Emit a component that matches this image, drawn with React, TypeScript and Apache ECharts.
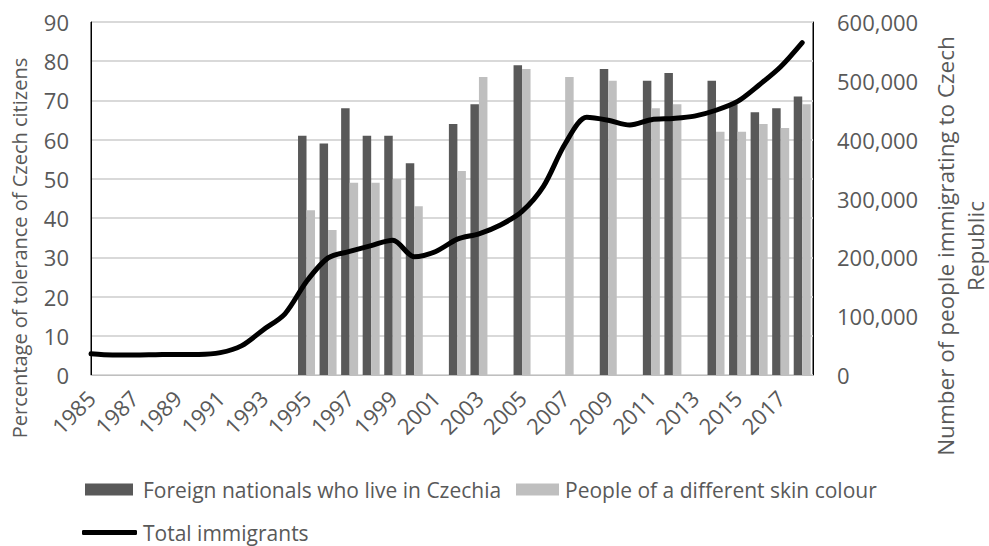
import React, { useEffect, useRef } from "react";
import * as echarts from "echarts";

// Survey years shown on the horizontal axis
const years = [
  1985, 1986, 1987, 1988, 1989, 1990, 1991, 1992, 1993, 1994, 1995, 1996,
  1997, 1998, 1999, 2000, 2001, 2002, 2003, 2004, 2005, 2006, 2007, 2008,
  2009, 2010, 2011, 2012, 2013, 2014, 2015, 2016, 2017, 2018,
];

// Tolerance (%) towards foreign nationals living in Czechia (null = no survey)
const foreignNationals = [
  null, null, null, null, null, null, null, null, null, null, 61, 59,
  68, 61, 61, 54, null, 64, 69, null, 79, null, null, null,
  78, null, 75, 77, null, 75, 69, 67, 68, 71,
];

// Tolerance (%) towards people of a different skin colour
const differentSkin = [
  null, null, null, null, null, null, null, null, null, null, 42, 37,
  49, 49, 50, 43, null, 52, 76, null, 78, null, 76, null,
  75, null, 68, 69, null, 62, 62, 64, 63, 69,
];

// Total number of immigrants living in the Czech Republic
const totalImmigrants = [
  36000, 34000, 34000, 34500, 35000, 35000, 38000, 50000, 77000, 104000,
  159000, 199000, 210000, 220000, 229000, 201000, 210000, 231000, 240000,
  255000, 278000, 321000, 393000, 438000, 433000, 425000, 434000, 436000,
  440000, 450000, 465000, 493000, 524000, 565000,
];

const leftTicks = { min: 0, max: 90, interval: 10 };
const rightTicks = { min: 0, max: 600000, interval: 100000 };

const SERIES_FOREIGN = "Foreign nationals who live in Czechia";
const SERIES_SKIN = "People of a different skin colour";
const SERIES_TOTAL = "Total immigrants";

const FONT = "'Open Sans', 'Noto Sans', sans-serif";
const TEXT = "#595959";

const pairs = (vals: (number | null)[]) =>
  years
    .map((y, i) => [y, vals[i]] as [number, number | null])
    .filter((p) => p[1] !== null);

export default function App() {
  const ref = useRef<HTMLDivElement>(null);

  useEffect(() => {
    if (!ref.current) return;
    const chart = echarts.init(ref.current, undefined, { renderer: "svg" });

    const legendText = (gap: number) => ({
      fontFamily: FONT,
      fontSize: 21,
      color: TEXT,
      padding: [0, 0, 0, gap],
    });

    chart.setOption({
      animation: false,
      backgroundColor: "#ffffff",
      textStyle: { fontFamily: FONT },
      grid: {
        left: 91,
        top: 22,
        width: 722,
        height: 353,
        show: true,
        borderColor: "#000000",
        borderWidth: 1,
        containLabel: false,
      },
      legend: [
        {
          data: [SERIES_FOREIGN],
          left: 85,
          top: 479,
          padding: 0,
          itemWidth: 48,
          itemHeight: 12,
          icon: "rect",
          textStyle: legendText(5),
        },
        {
          data: [SERIES_SKIN],
          left: 516,
          top: 479,
          padding: 0,
          itemWidth: 43,
          itemHeight: 12,
          icon: "rect",
          textStyle: legendText(1),
        },
        {
          data: [SERIES_TOTAL],
          left: 82,
          top: 522,
          padding: 0,
          itemWidth: 55,
          itemHeight: 5,
          icon: "roundRect",
          textStyle: legendText(1),
        },
      ],
      xAxis: {
        type: "value",
        min: 1985,
        max: 2018.5,
        interval: 2,
        axisLine: { show: true, lineStyle: { color: "#bfbfbf", width: 1 } },
        axisTick: { show: false },
        splitLine: { show: false },
        axisLabel: {
          rotate: 45,
          margin: 19,
          fontSize: 22,
          fontFamily: FONT,
          color: TEXT,
          showMaxLabel: false,
          formatter: (v: number) => (Number.isInteger(v) ? String(v) : ""),
        },
      },
      yAxis: [
        {
          type: "value",
          position: "left",
          ...leftTicks,
          axisLine: { show: true, lineStyle: { color: "#000000", width: 1 } },
          axisTick: { show: false },
          splitLine: { show: true, lineStyle: { color: "#d9d9d9", width: 2 } },
          axisLabel: { fontSize: 22, fontFamily: FONT, color: TEXT, margin: 22 },
        },
        {
          type: "value",
          position: "right",
          ...rightTicks,
          axisLine: { show: true, lineStyle: { color: "#000000", width: 1 } },
          axisTick: { show: false },
          splitLine: { show: false },
          axisLabel: {
            fontSize: 22,
            fontFamily: FONT,
            color: TEXT,
            margin: 24,
            formatter: (v: number) => v.toLocaleString("en-US"),
          },
        },
      ],
      graphic: [
        {
          type: "text",
          x: 19,
          y: 248,
          rotation: Math.PI / 2,
          style: {
            text: "Percentage of tolerance of Czech citizens",
            fontFamily: FONT,
            fontSize: 20,
            fill: TEXT,
            align: "center",
            verticalAlign: "middle",
          },
        },
        {
          type: "text",
          x: 960,
          y: 246,
          rotation: Math.PI / 2,
          style: {
            text: "Number of people immigrating to Czech\nRepublic",
            fontFamily: FONT,
            fontSize: 22.5,
            lineHeight: 30,
            fill: TEXT,
            align: "center",
            verticalAlign: "middle",
          },
        },
      ],
      series: [
        {
          name: SERIES_FOREIGN,
          type: "bar",
          yAxisIndex: 0,
          barWidth: 8.5,
          barGap: "0%",
          itemStyle: { color: "#595959" },
          data: pairs(foreignNationals),
        },
        {
          name: SERIES_SKIN,
          type: "bar",
          yAxisIndex: 0,
          barWidth: 8.5,
          barGap: "0%",
          itemStyle: { color: "#bfbfbf" },
          data: pairs(differentSkin),
        },
        {
          name: SERIES_TOTAL,
          type: "line",
          yAxisIndex: 1,
          smooth: 0.3,
          showSymbol: false,
          symbol: "none",
          lineStyle: { color: "#000000", width: 5, cap: "round", join: "round" },
          itemStyle: { color: "#000000" },
          data: pairs(totalImmigrants),
          z: 5,
        },
      ],
    });

    return () => chart.dispose();
  }, []);

  return <div ref={ref} style={{ width: 989, height: 546, position: "absolute", left: 0, top: 0 }} />;
}
